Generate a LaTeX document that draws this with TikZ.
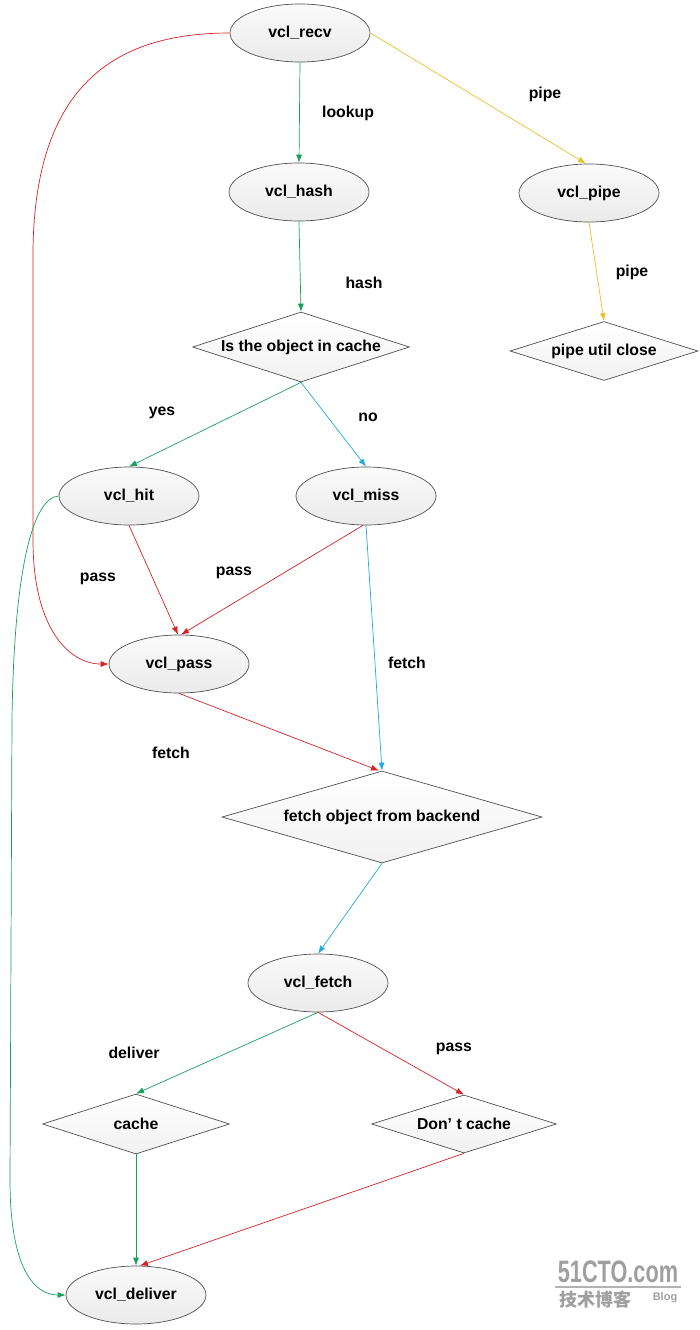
\documentclass[tikz,border=0pt]{standalone}
\usepackage{fontspec}
\setmainfont{Liberation Sans}
\newfontfamily\cjk{Noto Sans CJK SC}
\usetikzlibrary{shapes.geometric,arrows.meta}
\definecolor{egreen}{RGB}{25,160,95}
\definecolor{ered}{RGB}{215,35,35}
\definecolor{eyel}{RGB}{238,190,45}
\definecolor{eblue}{RGB}{35,170,220}
\definecolor{edge}{RGB}{80,80,80}
\begin{document}
\begin{tikzpicture}[x=1pt,y=-1pt,
  every node/.style={font=\fontsize{15.8}{18}\selectfont\bfseries},
  ell/.style={ellipse, draw=edge, line width=0.7pt, top color=gray!4, bottom color=gray!16,
    minimum width=140pt, minimum height=58pt, inner sep=0pt},
  dia/.style={diamond, aspect=3.5, draw=edge, line width=0.7pt, top color=white,
    bottom color=gray!11, inner sep=0pt},
  lbl/.style={inner sep=0pt},
  arr/.style={line width=0.7pt, -{Latex[length=8pt,width=6pt]}},
  wm/.style={text=gray!75, inner sep=0pt}
]
\useasboundingbox (0,0) rectangle (700,1330);

% nodes
\node[ell] (recv) at (300,33) {vcl\_recv};
\node[ell] (hash) at (299,192) {vcl\_hash};
\node[ell] (pipe) at (589,193) {vcl\_pipe};
\node[dia, minimum width=217pt, minimum height=70pt] (q) at (301,347) {Is the object in cache};
\node[dia, minimum width=188pt, minimum height=59pt] (close) at (604,351) {pipe util close};
\node[ell] (hit) at (129,496) {vcl\_hit};
\node[ell] (miss) at (366,496) {vcl\_miss};
\node[ell] (pass) at (179,664) {vcl\_pass};
\node[dia, minimum width=320pt, minimum height=92pt] (backend) at (382,817) {fetch object from backend};
\node[ell] (fetch) at (318,983) {vcl\_fetch};
\node[dia, minimum width=187pt, minimum height=60pt] (cache) at (136,1124) {cache};
\node[dia, minimum width=185pt, minimum height=58pt] (nocache) at (464,1124) {Don’ t cache};
\node[ell] (deliver) at (136,1295) {vcl\_deliver};

% connectors
\draw[arr,egreen] (recv.south) -- (hash.north);
\draw[arr,eyel] (recv.east) -- ([xshift=-3pt]pipe.north);
\draw[arr,egreen] (hash.south) -- (q.north);
\draw[arr,eyel] (pipe.south) -- (close.north);
\draw[arr,egreen] (q.south) -- (hit.north);
\draw[arr,eblue] (q.south) -- (miss.north);
\draw[arr,ered] (hit.south) -- ([xshift=-1pt]pass.north);
\draw[arr,ered] ([xshift=-3pt]miss.south) -- ([xshift=2pt]pass.north);
\draw[arr,ered] (recv.west) .. controls (110,33) and (35,90) .. (33,250) -- (33,540)
  .. controls (33,630) and (70,664) .. (pass.west);
\draw[arr,egreen] (hit.west) .. controls (35,497) and (14,560) .. (12,720) -- (10,1180)
  .. controls (10,1270) and (35,1295) .. (deliver.west);
\draw[arr,eblue] (miss.south) -- (backend.north);
\draw[arr,ered] (pass.south) -- ([xshift=-3pt]backend.north);
\draw[arr,eblue] (backend.south) -- (fetch.north);
\draw[arr,egreen] (fetch.south) -- (cache.north);
\draw[arr,ered] (fetch.south) -- (nocache.north);
\draw[arr,egreen] (cache.south) -- (deliver.north);
\draw[arr,ered] (nocache.south) -- ([xshift=4pt]deliver.north);

% labels
\node[lbl] (l1) at (348,113) {lookup};
\node[lbl] (l2) at (545,94) {pipe};
\node[lbl] (l3) at (364,283) {hash};
\node[lbl] (l4) at (632,272) {pipe};
\node[lbl] (l5) at (162,413) {yes};
\node[lbl] (l6) at (368,417) {no};
\node[lbl] (l7) at (98,579) {pass};
\node[lbl] (l8) at (234,573) {pass};
\node[lbl] (l9) at (407,663) {fetch};
\node[lbl] (l10) at (171,753) {fetch};
\node[lbl] (l11) at (134,1053) {deliver};
\node[lbl] (l12) at (454,1049) {pass};

% watermark
\node[wm, font=\fontsize{31}{31}\selectfont\bfseries, xscale=0.7] (w1) at (618,1272) {51CTO.com};
\draw[gray!60, line width=1.4pt] (555,1287) -- (681,1287);
\node[wm, font=\cjk\bfseries\fontsize{18}{18}\selectfont] (w2) at (595,1300) {技术博客};
\node[wm, font=\fontsize{11}{11}\selectfont\bfseries] (w3) at (665,1298) {Blog};
\end{tikzpicture}
\end{document}
